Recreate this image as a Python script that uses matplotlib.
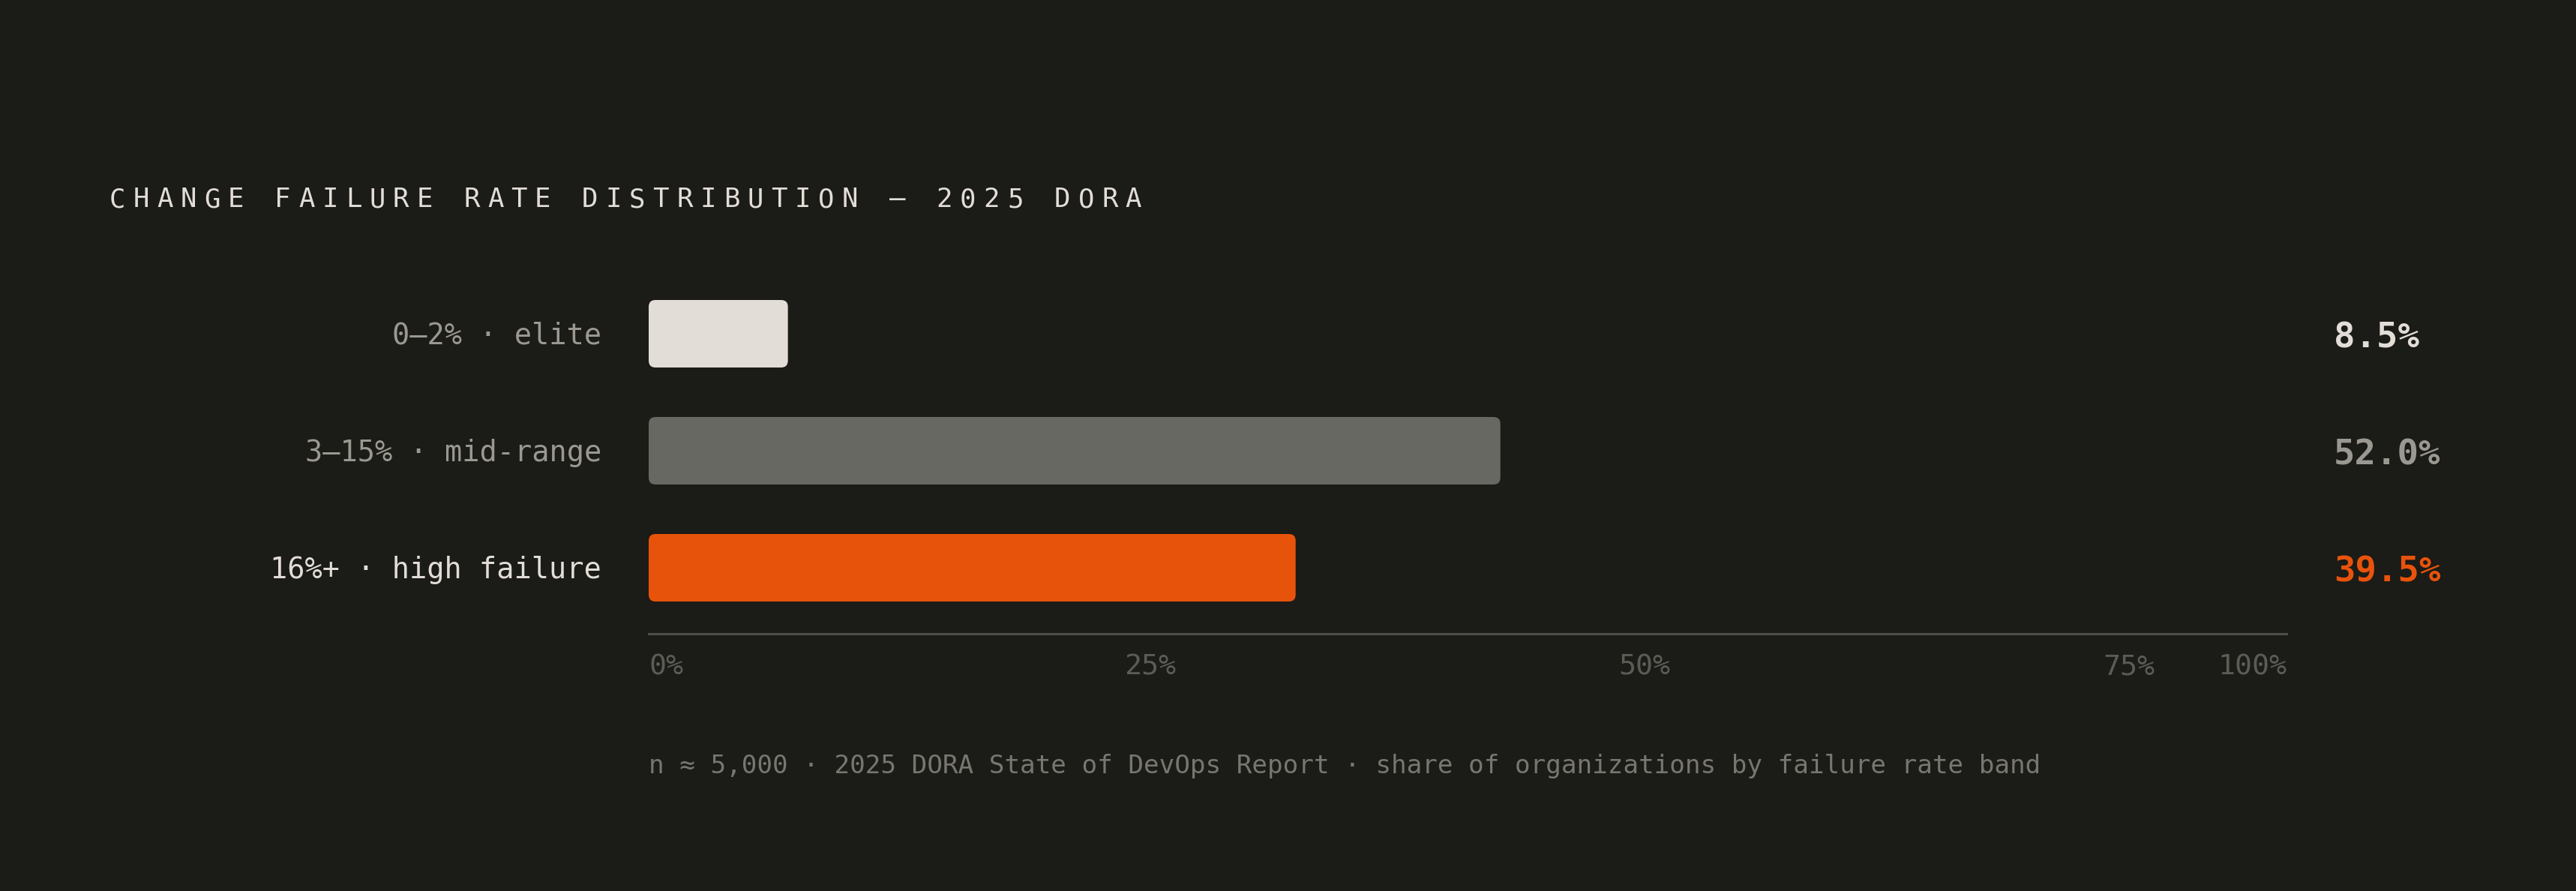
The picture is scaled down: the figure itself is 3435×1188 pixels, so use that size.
import matplotlib.pyplot as plt
from matplotlib.patches import FancyBboxPatch
from matplotlib.transforms import blended_transform_factory

# data
bands = ["0–2% · elite", "3–15% · mid-range", "16%+ · high failure"]
shares = [8.5, 52.0, 39.5]
value_labels = ["8.5%", "52.0%", "39.5%"]
tick_labels = ["0%", "25%", "50%", "75%", "100%"]
tick_pos = [0, 30.6, 60.8, 90.4, 100]
title = "CHANGE FAILURE RATE DISTRIBUTION — 2025 DORA"
note = "n ≈ 5,000 · 2025 DORA State of DevOps Report · share of organizations by failure rate band"

BG = "#1b1b17"
LIGHT = "#e2ddd7"
GREY = "#9a9891"
bar_colors = [LIGHT, "#686862", "#e8530c"]
label_colors = [GREY, GREY, LIGHT]
value_colors = [LIGHT, GREY, "#e8530c"]
MONO = "DejaVu Sans Mono"

W, H = 3435, 1188
fig = plt.figure(figsize=(W / 100, H / 100), dpi=100, facecolor=BG)

# axes placed in pixel coords: x 865..3049, bottom line at y=845
x0, x1 = 865, 3049
y_line = 845
row = 156
y_first = 445
top = y_first - 0.6 * row
ax = fig.add_axes([x0 / W, (H - y_line) / H, (x1 - x0) / W, (y_line - top) / H])
ax.set_facecolor(BG)
ax.set_xlim(0, 100)
ax.set_ylim((y_line - y_first) / row, -0.6)

bars = ax.barh(range(len(shares)), shares, height=90 / row, color=bar_colors)
px_x = (x1 - x0) / 100.0
aspect = px_x / row
for b, c in zip(bars, bar_colors):
    b.set_visible(False)
    ax.add_patch(FancyBboxPatch((b.get_x(), b.get_y()), b.get_width(), b.get_height(),
                                boxstyle="round,pad=0,rounding_size=%f" % (9 / px_x),
                                mutation_aspect=aspect, fc=c, ec="none"))

for sp in ["top", "left", "right"]:
    ax.spines[sp].set_visible(False)
ax.spines["bottom"].set_color("#4f4f4a")
ax.spines["bottom"].set_linewidth(2.2)
ax.set_xticks([])
ax.set_yticks([])

# category labels and values
for i, (lab, val) in enumerate(zip(bands, value_labels)):
    yc = y_first + i * row
    fig.text(802 / W, (H - yc - 3) / H, lab, ha="right", va="center", fontsize=27.8,
             family=MONO, color=label_colors[i])
    fig.text(3112 / W, (H - yc - 6) / H, val, ha="left", va="center", fontsize=34,
             family=MONO, weight="bold", color=value_colors[i])

# tick labels
tr = blended_transform_factory(ax.transData, fig.transFigure)
for k, (p, t) in enumerate(zip(tick_pos, tick_labels)):
    ha = "left" if k == 0 else ("right" if k == len(tick_pos) - 1 else "center")
    ax.text(p, (H - 890) / H, t, transform=tr, ha=ha, va="center", fontsize=27.5,
            family=MONO, color="#5c5c56", clip_on=False)

# footnote
fig.text(x0 / W, (H - 1022) / H, note, ha="left", va="center", fontsize=24.7,
         family=MONO, color="#77766f")

# letter-spaced title
adv = 31.5
for j, ch in enumerate(title):
    fig.text((146 + j * adv) / W, (H - 276) / H, ch, ha="left", va="baseline",
             fontsize=25.7, family=MONO, color=LIGHT)

fig.savefig("out.png", dpi=100, facecolor=BG)
